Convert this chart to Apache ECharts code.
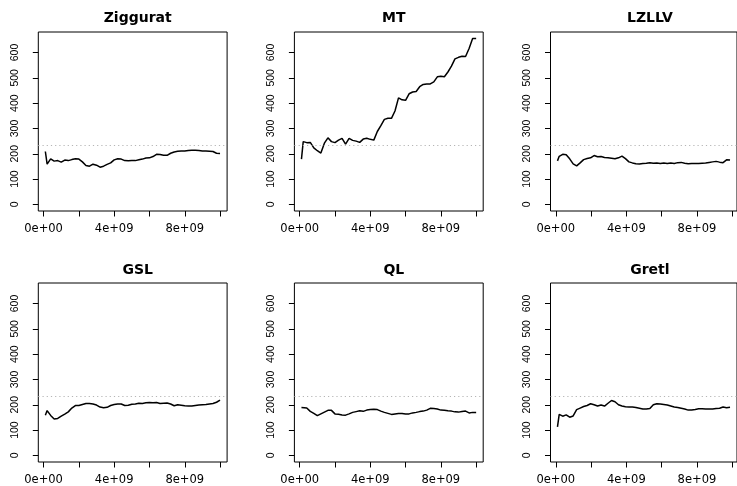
<!DOCTYPE html>
<html><head><meta charset="utf-8">
<script src="https://cdn.jsdelivr.net/npm/echarts@6/dist/echarts.min.js"></script>
<style>html,body{margin:0;padding:0;background:#fff}#c{width:737px;height:486px}</style>
</head><body><div id="c"></div>
<script>
const panelTitles = ["Ziggurat", "MT", "LZLLV", "GSL", "QL", "Gretl"];
const xPositions = [1e8, 2e8, 4e8, 6e8, 8e8, 1.0e9, 1.2e9, 1.4e9, 1.6e9, 1.8e9,
  2.0e9, 2.2e9, 2.4e9, 2.6e9, 2.8e9, 3.0e9, 3.2e9, 3.4e9, 3.6e9, 3.8e9,
  4.0e9, 4.2e9, 4.4e9, 4.6e9, 4.8e9, 5.0e9, 5.2e9, 5.4e9, 5.6e9, 5.8e9,
  6.0e9, 6.2e9, 6.4e9, 6.6e9, 6.8e9, 7.0e9, 7.2e9, 7.4e9, 7.6e9, 7.8e9,
  8.0e9, 8.2e9, 8.4e9, 8.6e9, 8.8e9, 9.0e9, 9.2e9, 9.4e9, 9.6e9, 9.8e9, 1.0e10];
const zigguratValues = [209, 159, 180, 171, 173, 167, 175, 173, 177, 180,
  179, 168, 154, 151, 159, 155, 147, 151, 158, 164,
  176, 180, 179, 173, 172, 173, 173, 176, 179, 183,
  184, 189, 198, 197, 194, 194, 202, 207, 210, 211,
  211, 213, 214, 214, 213, 211, 211, 210, 209, 202, 201];
const mtValues = [179, 248, 244, 245, 223, 212, 203, 242, 263, 248,
  244, 254, 261, 238, 261, 253, 250, 245, 258, 261,
  257, 254, 288, 311, 336, 340, 340, 369, 421, 413,
  411, 437, 444, 446, 465, 474, 476, 476, 484, 504,
  506, 504, 523, 546, 575, 581, 585, 584, 616, 655, 655];
const lzllvValues = [172, 190, 198, 196, 180, 160, 152, 164, 177, 181,
  184, 193, 188, 189, 185, 184, 182, 180, 184, 191,
  181, 168, 164, 161, 160, 162, 163, 165, 163, 164,
  162, 164, 162, 164, 162, 165, 166, 163, 161, 162,
  162, 162, 163, 164, 166, 168, 170, 167, 165, 176, 175];
const gslValues = [159, 177, 158, 144, 146, 155, 163, 172, 187, 197,
  197, 201, 205, 205, 203, 199, 191, 188, 190, 197,
  201, 203, 203, 197, 198, 202, 203, 206, 205, 208,
  209, 208, 209, 205, 206, 207, 203, 196, 200, 198,
  196, 195, 195, 197, 199, 200, 201, 203, 205, 210, 218];
const qlValues = [189, 191, 187, 174, 166, 157, 164, 171, 178, 178,
  164, 163, 160, 159, 164, 170, 173, 176, 174, 179,
  181, 182, 181, 175, 170, 166, 162, 164, 166, 166,
  164, 164, 168, 170, 173, 175, 179, 186, 185, 183,
  179, 178, 176, 175, 172, 171, 173, 175, 168, 170, 170];
const gretlValues = [113, 162, 155, 160, 151, 156, 181, 187, 193, 197,
  204, 200, 195, 199, 195, 206, 217, 212, 200, 195,
  192, 191, 191, 189, 186, 183, 183, 185, 200, 204,
  203, 201, 199, 195, 191, 189, 186, 183, 179, 179,
  181, 184, 184, 183, 183, 183, 185, 186, 191, 188, 190];
const referenceLevel = 234;
const xTickMin = 0, xTickMax = 1e10, xTickStep = 2e9;
const xLabelValues = [0, 4e9, 8e9];
const xLabelTexts = ["0e+00", "4e+09", "8e+09"];
const yTickMin = 0, yTickMax = 600, yTickStep = 100;

const seriesValues = [zigguratValues, mtValues, lzllvValues, gslValues, qlValues, gretlValues];

// layout (pixels) and plotting ranges
const colLeft = [38.3, 294.4, 550.5];
const rowTop = [32, 283];
const boxW = 188.8, boxH = 179;
const xMin = -0.3e9, xMax = 10.4e9;
const yMin = -26, yMax = 681;

const grids = [], xAxes = [], yAxes = [], series = [], titles = [];
const hiddenAxis = (type, gi, min, max) => ({type: 'value', gridIndex: gi, min: min, max: max, show: false});

for (let i = 0; i < 6; i++) {
  const r = Math.floor(i / 3), c = i % 3;
  const L = colLeft[c], T = rowTop[r];
  // main data box
  const gMain = grids.length;
  grids.push({left: L, top: T, width: boxW, height: boxH,
    show: true, borderColor: '#000', borderWidth: 1, backgroundColor: 'transparent', containLabel: false});
  xAxes.push(hiddenAxis('x', gMain, xMin, xMax));
  yAxes.push(hiddenAxis('y', gMain, yMin, yMax));
  const ax = xAxes.length - 1, ay = yAxes.length - 1;
  series.push({type: 'line', xAxisIndex: ax, yAxisIndex: ay, showSymbol: false, symbol: 'none',
    data: xPositions.map((x, j) => [x, seriesValues[i][j]]),
    lineStyle: {color: '#000', width: 1.5}, animation: false, silent: true,
    markLine: {silent: true, symbol: ['none', 'none'], animation: false,
      label: {show: false},
      lineStyle: {type: [1.2, 3], color: '#b5b5b5', width: 1},
      data: [{yAxis: referenceLevel}]}});

  // x-axis ticks grid spanning the tick range horizontally
  const gx = grids.length;
  const xl = L + (xTickMin - xMin) / (xMax - xMin) * boxW;
  const xw = (xTickMax - xTickMin) / (xMax - xMin) * boxW;
  grids.push({left: xl, top: T, width: xw, height: boxH, show: false, containLabel: false});
  xAxes.push({type: 'value', gridIndex: gx, min: xTickMin, max: xTickMax, interval: xTickStep,
    axisLine: {show: false}, splitLine: {show: false},
    axisTick: {show: true, length: 5.5, lineStyle: {color: '#000', width: 1}},
    axisLabel: {show: true, margin: 12, color: '#000', fontFamily: 'DejaVu Sans', fontSize: 11.5,
      showMinLabel: true, showMaxLabel: true,
      formatter: function (v) { const k = xLabelValues.indexOf(v); return k >= 0 ? xLabelTexts[k] : ''; }}});
  yAxes.push(hiddenAxis('y', gx, 0, 1));

  // y-axis ticks grid spanning the tick range vertically
  const gy = grids.length;
  const yt = T + (yMax - yTickMax) / (yMax - yMin) * boxH;
  const yh = (yTickMax - yTickMin) / (yMax - yMin) * boxH;
  grids.push({left: L, top: yt, width: boxW, height: yh, show: false, containLabel: false});
  xAxes.push(hiddenAxis('x', gy, 0, 1));
  yAxes.push({type: 'value', gridIndex: gy, min: yTickMin, max: yTickMax, interval: yTickStep,
    axisLine: {show: false}, splitLine: {show: false},
    axisTick: {show: true, length: 5.5, lineStyle: {color: '#000', width: 1}},
    axisLabel: {show: true, rotate: 90, margin: 18, color: '#000',
      fontFamily: 'Liberation Sans', fontSize: 10.5, showMinLabel: true, showMaxLabel: true}});

  titles.push({text: panelTitles[i], left: L + boxW / 2, top: r === 0 ? 6 : 258, textAlign: 'center',
    textStyle: {fontFamily: 'DejaVu Sans', fontWeight: 'bold', fontSize: 14, color: '#000'}});
}

const chart = echarts.init(document.getElementById('c'), null, {renderer: 'canvas'});
chart.setOption({animation: false, backgroundColor: '#fff', title: titles,
  grid: grids, xAxis: xAxes, yAxis: yAxes, series: series});
</script>
</body></html>
